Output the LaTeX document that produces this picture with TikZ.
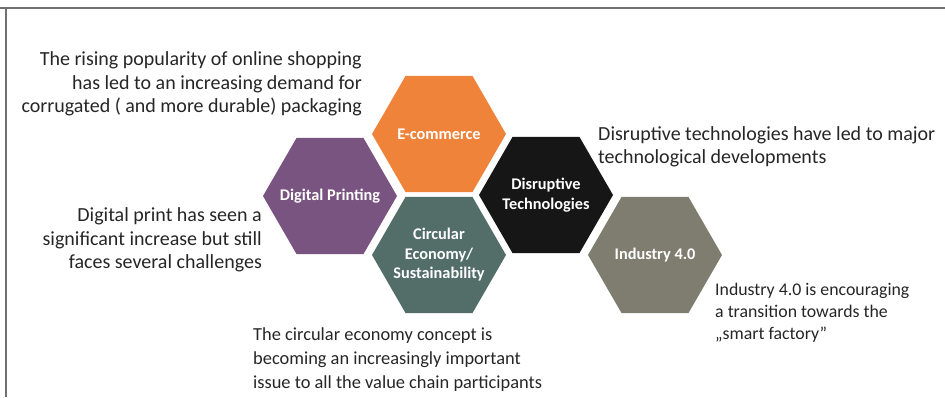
\documentclass[tikz,border=0pt]{standalone}
\usepackage{fontspec}
\setmainfont{Carlito}
\usetikzlibrary{shapes.geometric, positioning}

\definecolor{ecomorange}{RGB}{240,131,58}
\definecolor{printpurple}{RGB}{122,84,128}
\definecolor{circteal}{RGB}{83,110,105}
\definecolor{disrblack}{RGB}{22,22,22}
\definecolor{indgray}{RGB}{127,125,111}
\definecolor{framegray}{RGB}{112,112,112}
\definecolor{textdark}{RGB}{38,38,38}

\begin{document}
\begin{tikzpicture}[
  x=1pt, y=-1pt,
  hex/.style={regular polygon, regular polygon sides=6, minimum size=134pt, inner sep=0pt, draw=none},
  hexlabel/.style={text=white, font=\fontsize{16.3}{19.5}\selectfont\bfseries, align=center, inner sep=0pt},
  note/.style={inner sep=0pt, text=textdark, font=\fontsize{20}{23.3}\selectfont}
]
  \fill[white] (0,0) rectangle (945,397);
  \useasboundingbox (0,0) rectangle (945,397);

  % frame
  \draw[framegray, line width=2pt] (0,8) -- (945,8);
  \draw[framegray, line width=2pt] (6,8) -- (6,397);

  % honeycomb
  \node[hex, fill=ecomorange, label={[hexlabel]center:E-commerce}] (ecom) at (439,134) {};
  \node[hex, fill=printpurple, label={[hexlabel]center:Digital Printing}] (print) at (330,196) {};
  \node[hex, fill=circteal, label={[hexlabel]center:Circular\\Economy/\\Sustainability}] (circ) at (439,255) {};
  \node[hex, fill=disrblack, label={[hexlabel]center:Disruptive\\Technologies}] (disr) at (546,195) {};
  \node[hex, fill=indgray, label={[hexlabel]center:Industry 4.0}] (ind) at (655,255) {};

  % descriptions
  \node[note, anchor=east, align=right] (ecomnote) at (362,84)
    {The rising popularity of online shopping\\has led to an increasing demand for\\corrugated ( and more durable) packaging};
  \node[note, anchor=east, align=right] (printnote) at (262,240)
    {Digital print has seen a\\significant increase but still\\faces several challenges};
  \node[note, anchor=west, align=left, font=\fontsize{18.4}{24}\selectfont] (circnote) at (253,360)
    {The circular economy concept is\\becoming an increasingly important\\issue to all the value chain participants};
  \node[note, anchor=west, align=left] (disrnote) at (598,147)
    {Disruptive technologies have led to major\\technological developments};
  \node[note, anchor=west, align=left, font=\fontsize{17.8}{21.8}\selectfont] (indnote) at (715,313)
    {Industry 4.0 is encouraging\\a transition towards the\\„smart factory”};
\end{tikzpicture}
\end{document}
